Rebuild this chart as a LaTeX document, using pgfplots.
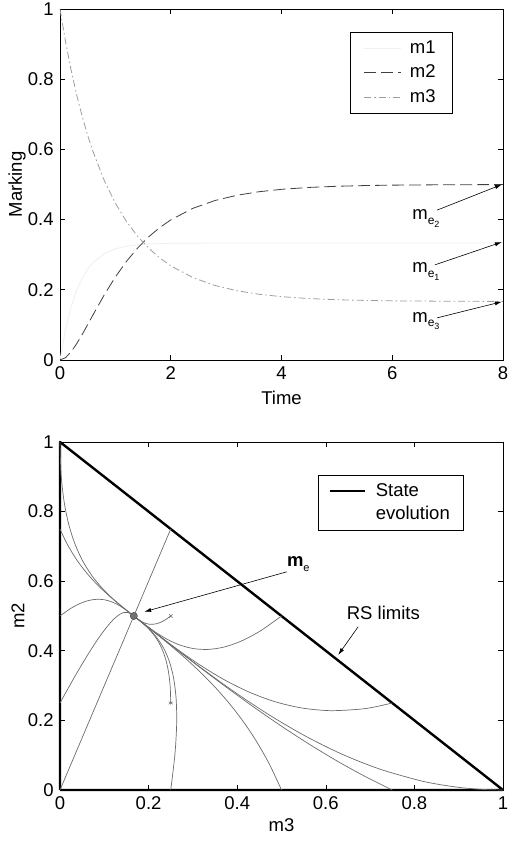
\documentclass[border=0pt]{standalone}
\usepackage{fontspec}
\setmainfont{Liberation Sans}
\usepackage{pgfplots}
\pgfplotsset{compat=1.18}
\usetikzlibrary{arrows.meta}
\newcommand\me[1]{m\raisebox{-0.45ex}{\fontsize{12}{12}\selectfont e\raisebox{-0.45ex}{\fontsize{9}{9}\selectfont #1}}}
\pgfplotsset{
  mystyle/.style={
    scale only axis, width=443pt,
    clip=false,
    /pgf/number format/assume math mode=true,
    tick align=inside, major tick length=5pt,
    axis line style={line width=0.8pt},
    every tick/.style={black, line width=0.6pt},
    xticklabel style={/pgf/number format/fixed},
    yticklabel style={/pgf/number format/fixed},
    legend cell align=left,
  },
  traj/.style={black!58, line width=0.7pt, smooth, forget plot},
}
\begin{document}
\fontsize{18.5}{21}\selectfont
\begin{tikzpicture}[x=1pt,y=1pt]
\useasboundingbox (0,0) rectangle (508,841);
% ---------------- top plot ----------------
\begin{axis}[mystyle, at={(60pt,481pt)}, anchor=south west, height=351pt,
  xmin=0, xmax=8, ymin=0, ymax=1,
  xtick={0,2,4,6,8}, ytick={0,0.2,0.4,0.6,0.8,1},
  xlabel={Time}, ylabel={Marking},
  xlabel style={at={(axis description cs:0.5,-0.107)}, anchor=center},
  ylabel style={at={(axis description cs:-0.097,0.5)}, anchor=center},
  legend style={at={(0.887,0.934)}, anchor=north east, draw=black, line width=0.6pt,
    inner xsep=14pt, inner ysep=5pt, row sep=3pt, column sep=5pt, nodes={inner sep=3pt}},
  legend image code/.code={\draw[#1] (0pt,0pt) -- (37pt,0pt);},
]
\addplot[black!6, line width=0.9pt] coordinates {
(0,0) (0.1,0.08639) (0.2,0.15040) (0.3,0.19781) (0.4,0.23294) (0.5,0.25896)
(0.6,0.27823) (0.8,0.30309) (1.0,0.31674) (1.2,0.32422) (1.4,0.32834) (1.6,0.33059)
(1.8,0.33183) (2.0,0.33251) (2.4,0.33308) (2.8,0.33326) (3.2,0.33331) (4,0.33333)
(6,0.33333) (8,0.33333)};
\addlegendentry{m1}
\addplot[black!75, line width=0.8pt, dash pattern=on 12pt off 5pt] coordinates {
(0,0) (0.1,0.00658) (0.2,0.02316) (0.3,0.04603) (0.4,0.07256) (0.5,0.10088)
(0.6,0.12972) (0.8,0.18568) (1.0,0.23654) (1.2,0.28094) (1.4,0.31880) (1.6,0.35064)
(1.8,0.37716) (2.0,0.39912) (2.4,0.43215) (2.8,0.45445) (3.2,0.46945) (3.6,0.47951)
(4.0,0.48626) (4.5,0.49167) (5,0.49495) (5.5,0.49693) (6,0.49814) (7,0.49932) (8,0.49975)};
\addlegendentry{m2}
\addplot[black!38, line width=0.8pt, dash pattern=on 7pt off 3pt on 1.5pt off 3pt] coordinates {
(0,1) (0.1,0.90703) (0.2,0.82645) (0.3,0.75616) (0.4,0.69451) (0.5,0.64016)
(0.6,0.59205) (0.8,0.51122) (1.0,0.44673) (1.2,0.39484) (1.4,0.35287) (1.6,0.31878)
(1.8,0.29102) (2.0,0.26838) (2.4,0.23477) (2.8,0.21229) (3.2,0.19725) (3.6,0.18716)
(4.0,0.18040) (4.5,0.17500) (5,0.17172) (5.5,0.16973) (6,0.16853) (7,0.16735) (8,0.16692)};
\addlegendentry{m3}
\node[anchor=base west, inner sep=0pt] at (axis cs:6.36,0.399) {\me{2}};
\node[anchor=base west, inner sep=0pt] at (axis cs:6.36,0.248) {\me{1}};
\node[anchor=base west, inner sep=0pt] at (axis cs:6.36,0.108) {\me{3}};
\draw[line width=0.6pt, -{Latex[length=7pt,width=4pt]}] (axis cs:6.81,0.427) -- (axis cs:7.98,0.5);
\draw[line width=0.6pt, -{Latex[length=7pt,width=4pt]}] (axis cs:6.77,0.271) -- (axis cs:7.98,0.336);
\draw[line width=0.6pt, -{Latex[length=7pt,width=4pt]}] (axis cs:6.81,0.12) -- (axis cs:7.98,0.166);
\end{axis}
% ---------------- bottom plot ----------------
\begin{axis}[mystyle, at={(60pt,51pt)}, anchor=south west, height=348pt,
  xmin=0, xmax=1, ymin=0, ymax=1,
  xtick={0,0.2,0.4,0.6,0.8,1}, ytick={0,0.2,0.4,0.6,0.8,1},
  xlabel={m3}, ylabel={m2},
  xlabel style={at={(axis description cs:0.5,-0.101)}, anchor=center},
  ylabel style={at={(axis description cs:-0.095,0.5)}, anchor=center},
  legend style={at={(0.91,0.905)}, anchor=north east, draw=black, line width=0.6pt,
    inner xsep=10pt, inner ysep=5pt, row sep=1.5pt, column sep=7pt, nodes={inner sep=3pt}},
  legend image code/.code={\draw[#1] (0pt,0pt) -- (35pt,0pt);},
]
\addplot[black, line width=2.4pt, line join=round] coordinates {(0,0) (1,0) (0,1) (0,0)};
\addlegendentry{State}
\addlegendimage{empty legend}
\addlegendentry{evolution}
% trajectories (m3, m2)
\addplot[traj] coordinates {(0,1) (0.00242,0.90725) (0.00933,0.828) (0.02025,0.76075) (0.03467,0.704) (0.05208,0.65625) (0.072,0.616) (0.09392,0.58175) (0.11733,0.552) (0.14175,0.52525) (0.16667,0.5)};
\addplot[traj] coordinates {(0,0.75) (0.0131,0.71431) (0.02733,0.682) (0.04256,0.65269) (0.05867,0.626) (0.07552,0.60156) (0.093,0.579) (0.11098,0.55794) (0.12933,0.538) (0.14794,0.51881) (0.16667,0.5)};
\addplot[traj] coordinates {(0,0.5) (0.02379,0.52138) (0.04533,0.536) (0.06488,0.54463) (0.08267,0.548) (0.09896,0.54688) (0.114,0.542) (0.12804,0.53413) (0.14133,0.524) (0.15413,0.51238) (0.16667,0.5)};
\addplot[traj] coordinates {(0,0.25) (0.03448,0.32844) (0.06333,0.39) (0.08719,0.43656) (0.10667,0.47) (0.1224,0.49219) (0.135,0.505) (0.1451,0.51031) (0.15333,0.51) (0.16031,0.50594) (0.16667,0.5)};
\addplot[traj] coordinates {(0,0) (0.16667,0.5)};
\addplot[traj] coordinates {(0.25,0.75) (0.16667,0.5)};
\addplot[traj] coordinates {(0.5,0.5) (0.45242,0.45725) (0.40933,0.428) (0.37025,0.41075) (0.33467,0.404) (0.30208,0.40625) (0.272,0.416) (0.24392,0.43175) (0.21733,0.452) (0.19175,0.47525) (0.16667,0.5)};
\addplot[traj] coordinates {(0.75,0.25) (0.71312,0.23934) (0.67742,0.23225) (0.60933,0.228) (0.54525,0.23575) (0.48467,0.254) (0.42708,0.28125) (0.372,0.316) (0.31892,0.35675) (0.26733,0.402) (0.21675,0.45025) (0.16667,0.5)};
\addplot[traj] coordinates {(1,0) (0.95062,0.00184) (0.90242,0.00725) (0.85534,0.01603) (0.80933,0.028) (0.72025,0.06075) (0.63467,0.104) (0.55208,0.15625) (0.472,0.216) (0.39392,0.28175) (0.31733,0.352) (0.24175,0.42525) (0.16667,0.5)};
\addplot[traj] coordinates {(0.75,0) (0.6881,0.03931) (0.62733,0.082) (0.56756,0.12769) (0.50867,0.176) (0.45052,0.22656) (0.393,0.279) (0.33598,0.33294) (0.27933,0.388) (0.22294,0.44381) (0.16667,0.5)};
\addplot[traj] coordinates {(0.5,0) (0.47379,0.07138) (0.44533,0.136) (0.41488,0.19463) (0.38267,0.248) (0.34896,0.29688) (0.314,0.342) (0.27804,0.38413) (0.24133,0.424) (0.20413,0.46238) (0.16667,0.5)};
\addplot[traj] coordinates {(0.25,0) (0.25948,0.10344) (0.26333,0.19) (0.26219,0.26156) (0.25667,0.32) (0.2474,0.36719) (0.235,0.405) (0.2201,0.43531) (0.20333,0.46) (0.18531,0.48094) (0.16667,0.5)};
\addplot[traj] coordinates {(0.25,0.25) (0.24879,0.29638) (0.24533,0.336) (0.23988,0.36963) (0.23267,0.398) (0.22396,0.42188) (0.214,0.442) (0.20304,0.45913) (0.19133,0.474) (0.17913,0.48738) (0.16667,0.5)};
\addplot[traj] coordinates {(0.25,0.5) (0.2381,0.48931) (0.22733,0.482) (0.21756,0.47769) (0.20867,0.476) (0.20052,0.47656) (0.193,0.479) (0.18598,0.48294) (0.17933,0.488) (0.17294,0.49381) (0.16667,0.5)};
% start markers
\addplot[only marks, mark=asterisk, mark size=2.5pt, black!60, forget plot] coordinates {(0.25,0.25)};
\addplot[only marks, mark=x, mark size=2.5pt, black!60, forget plot] coordinates {(0.25,0.5)};
% equilibrium
\addplot[only marks, mark=*, mark size=3.6pt, mark options={fill=black!55, draw=black!75}, forget plot] coordinates {(0.16667,0.5)};
\node[anchor=base west, inner sep=0pt] at (axis cs:0.512,0.641) {\textbf{m}\raisebox{-0.5ex}{\fontsize{11}{11}\selectfont e}};
\draw[line width=0.6pt, -{Latex[length=7pt,width=4pt]}] (axis cs:0.512,0.627) -- (axis cs:0.19,0.512);
\node[anchor=base west, inner sep=0pt] at (axis cs:0.647,0.489) {RS limits};
\draw[line width=0.6pt, -{Latex[length=7pt,width=4pt]}] (axis cs:0.673,0.469) -- (axis cs:0.628,0.388);
\end{axis}
\end{tikzpicture}
\end{document}
